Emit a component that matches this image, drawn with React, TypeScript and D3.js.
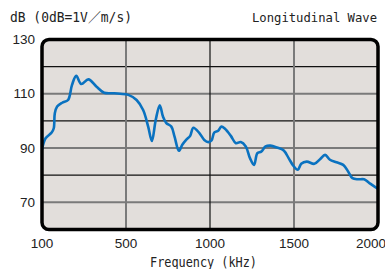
import React from "react";
import * as d3 from "d3";

const freqs = [100, 117, 146, 156, 161, 172, 196, 224, 243, 263, 287, 321, 360, 396, 440, 472, 514, 563, 602, 632, 654, 677, 701, 720, 740, 770, 789, 815, 835, 858, 882, 901, 937, 966, 990, 1009, 1025, 1049, 1068, 1089, 1124, 1154, 1183, 1213, 1238, 1262, 1282, 1305, 1331, 1360, 1399, 1439, 1468, 1497, 1523, 1543, 1576, 1621, 1655, 1685, 1714, 1753, 1793, 1823, 1848, 1882, 1917, 1951, 1984, 2000];
const dbValues = [89.5, 93.6, 95.7, 97.3, 102.8, 105.3, 106.7, 107.7, 113.3, 116.6, 113.6, 115.3, 112.6, 110.4, 110.2, 110.0, 109.6, 107.7, 104, 97.9, 92.6, 100.4, 105.8, 101.6, 99.2, 97.9, 94.2, 89, 91.2, 93, 94.5, 97.5, 95.5, 93, 92.2, 92.8, 95.7, 96.4, 97.9, 97.1, 94.5, 91.8, 92.2, 90.6, 86.3, 83.8, 88.1, 88.7, 90.6, 90.9, 90.2, 89.1, 86.3, 83.4, 82, 84.2, 85, 84.2, 85.9, 87.5, 85.7, 84.8, 83.8, 81.3, 78.9, 78.5, 78.5, 77, 75.6, 75];

const xTicks = [100, 500, 1000, 1500, 2000];
const yTicks = [130, 110, 90, 70];
const yGrid = [120, 110, 100, 90, 80, 70];
const xGrid = [500, 1000, 1500];

const titleText = "dB (0dB=1V／m/s)";
const waveText = "Longitudinal Wave";
const xLabel = "Frequency (kHz)";

export default function App() {
  const W = 385, H = 269;
  const left = 42, right = 378, top = 39.5, bottom = 229.5;
  const x = d3.scaleLinear().domain(xTicks).range(xTicks.map((_, i) => left + (i * (right - left)) / (xTicks.length - 1)));
  const y = d3.scaleLinear().domain([60, 130]).range([bottom, top]);
  const line = d3.line<number>().x((_, i) => x(freqs[i])).y((d) => y(d)).curve(d3.curveCatmullRom.alpha(0.5));
  const numFont = "'Liberation Sans', Arial, sans-serif";
  const monoFont = "'DejaVu Sans Mono', 'Noto Sans CJK JP', monospace";
  const majorY = new Set(yTicks);
  return (
    <svg width={W} height={H} style={{ position: "absolute", left: 0, top: 0 }}>
      <rect x={0} y={0} width={W} height={H} fill="#ffffff" />
      <defs>
        <clipPath id="plotclip">
          <rect x={left} y={top} width={right - left} height={bottom - top} rx={7} />
        </clipPath>
      </defs>
      <rect x={left} y={top} width={right - left} height={bottom - top} rx={7} fill="#e2dedb" />
      <g clipPath="url(#plotclip)">
        {yGrid.map((v) => (
          <line key={"gy" + v} x1={left} x2={right} y1={y(v)} y2={y(v)}
            stroke={majorY.has(v) ? "#7a7a7a" : "#111"} strokeWidth={majorY.has(v) ? 2 : 1.2} />
        ))}
        {xGrid.map((v) => (
          <line key={"gx" + v} x1={x(v)} x2={x(v)} y1={top} y2={bottom}
            stroke={v === 1000 ? "#111" : "#7a7a7a"} strokeWidth={v === 1000 ? 1.2 : 2} />
        ))}
        <path d={line(dbValues) || ""} fill="none" stroke="#0a72c0" strokeWidth={2.6} strokeLinejoin="round" strokeLinecap="round" />
      </g>
      <rect x={left} y={top} width={right - left} height={bottom - top} rx={7} fill="none" stroke="#000" strokeWidth={3.5} />
      {yTicks.map((v) => (
        <text key={"yl" + v} x={35} y={y(v) + 4.5} textAnchor="end" fontFamily={numFont} fontSize={13.5} fill="#222">{v}</text>
      ))}
      {xTicks.map((v, i) => (
        <text key={"xl" + v} x={i === xTicks.length - 1 ? 371 : x(v)} y={248} textAnchor="middle" fontFamily={numFont} fontSize={13.5} fill="#222">{v}</text>
      ))}
      <text x={10} y={22} fontFamily={monoFont} fontSize={13.5} fill="#222" textLength={122} lengthAdjust="spacingAndGlyphs">{titleText}</text>
      <text x={252} y={22} fontFamily={monoFont} fontSize={12.5} fill="#222" textLength={125} lengthAdjust="spacingAndGlyphs">{waveText}</text>
      <text x={150} y={267} fontFamily={monoFont} fontSize={13.5} fill="#222" textLength={107} lengthAdjust="spacingAndGlyphs">{xLabel}</text>
    </svg>
  );
}
